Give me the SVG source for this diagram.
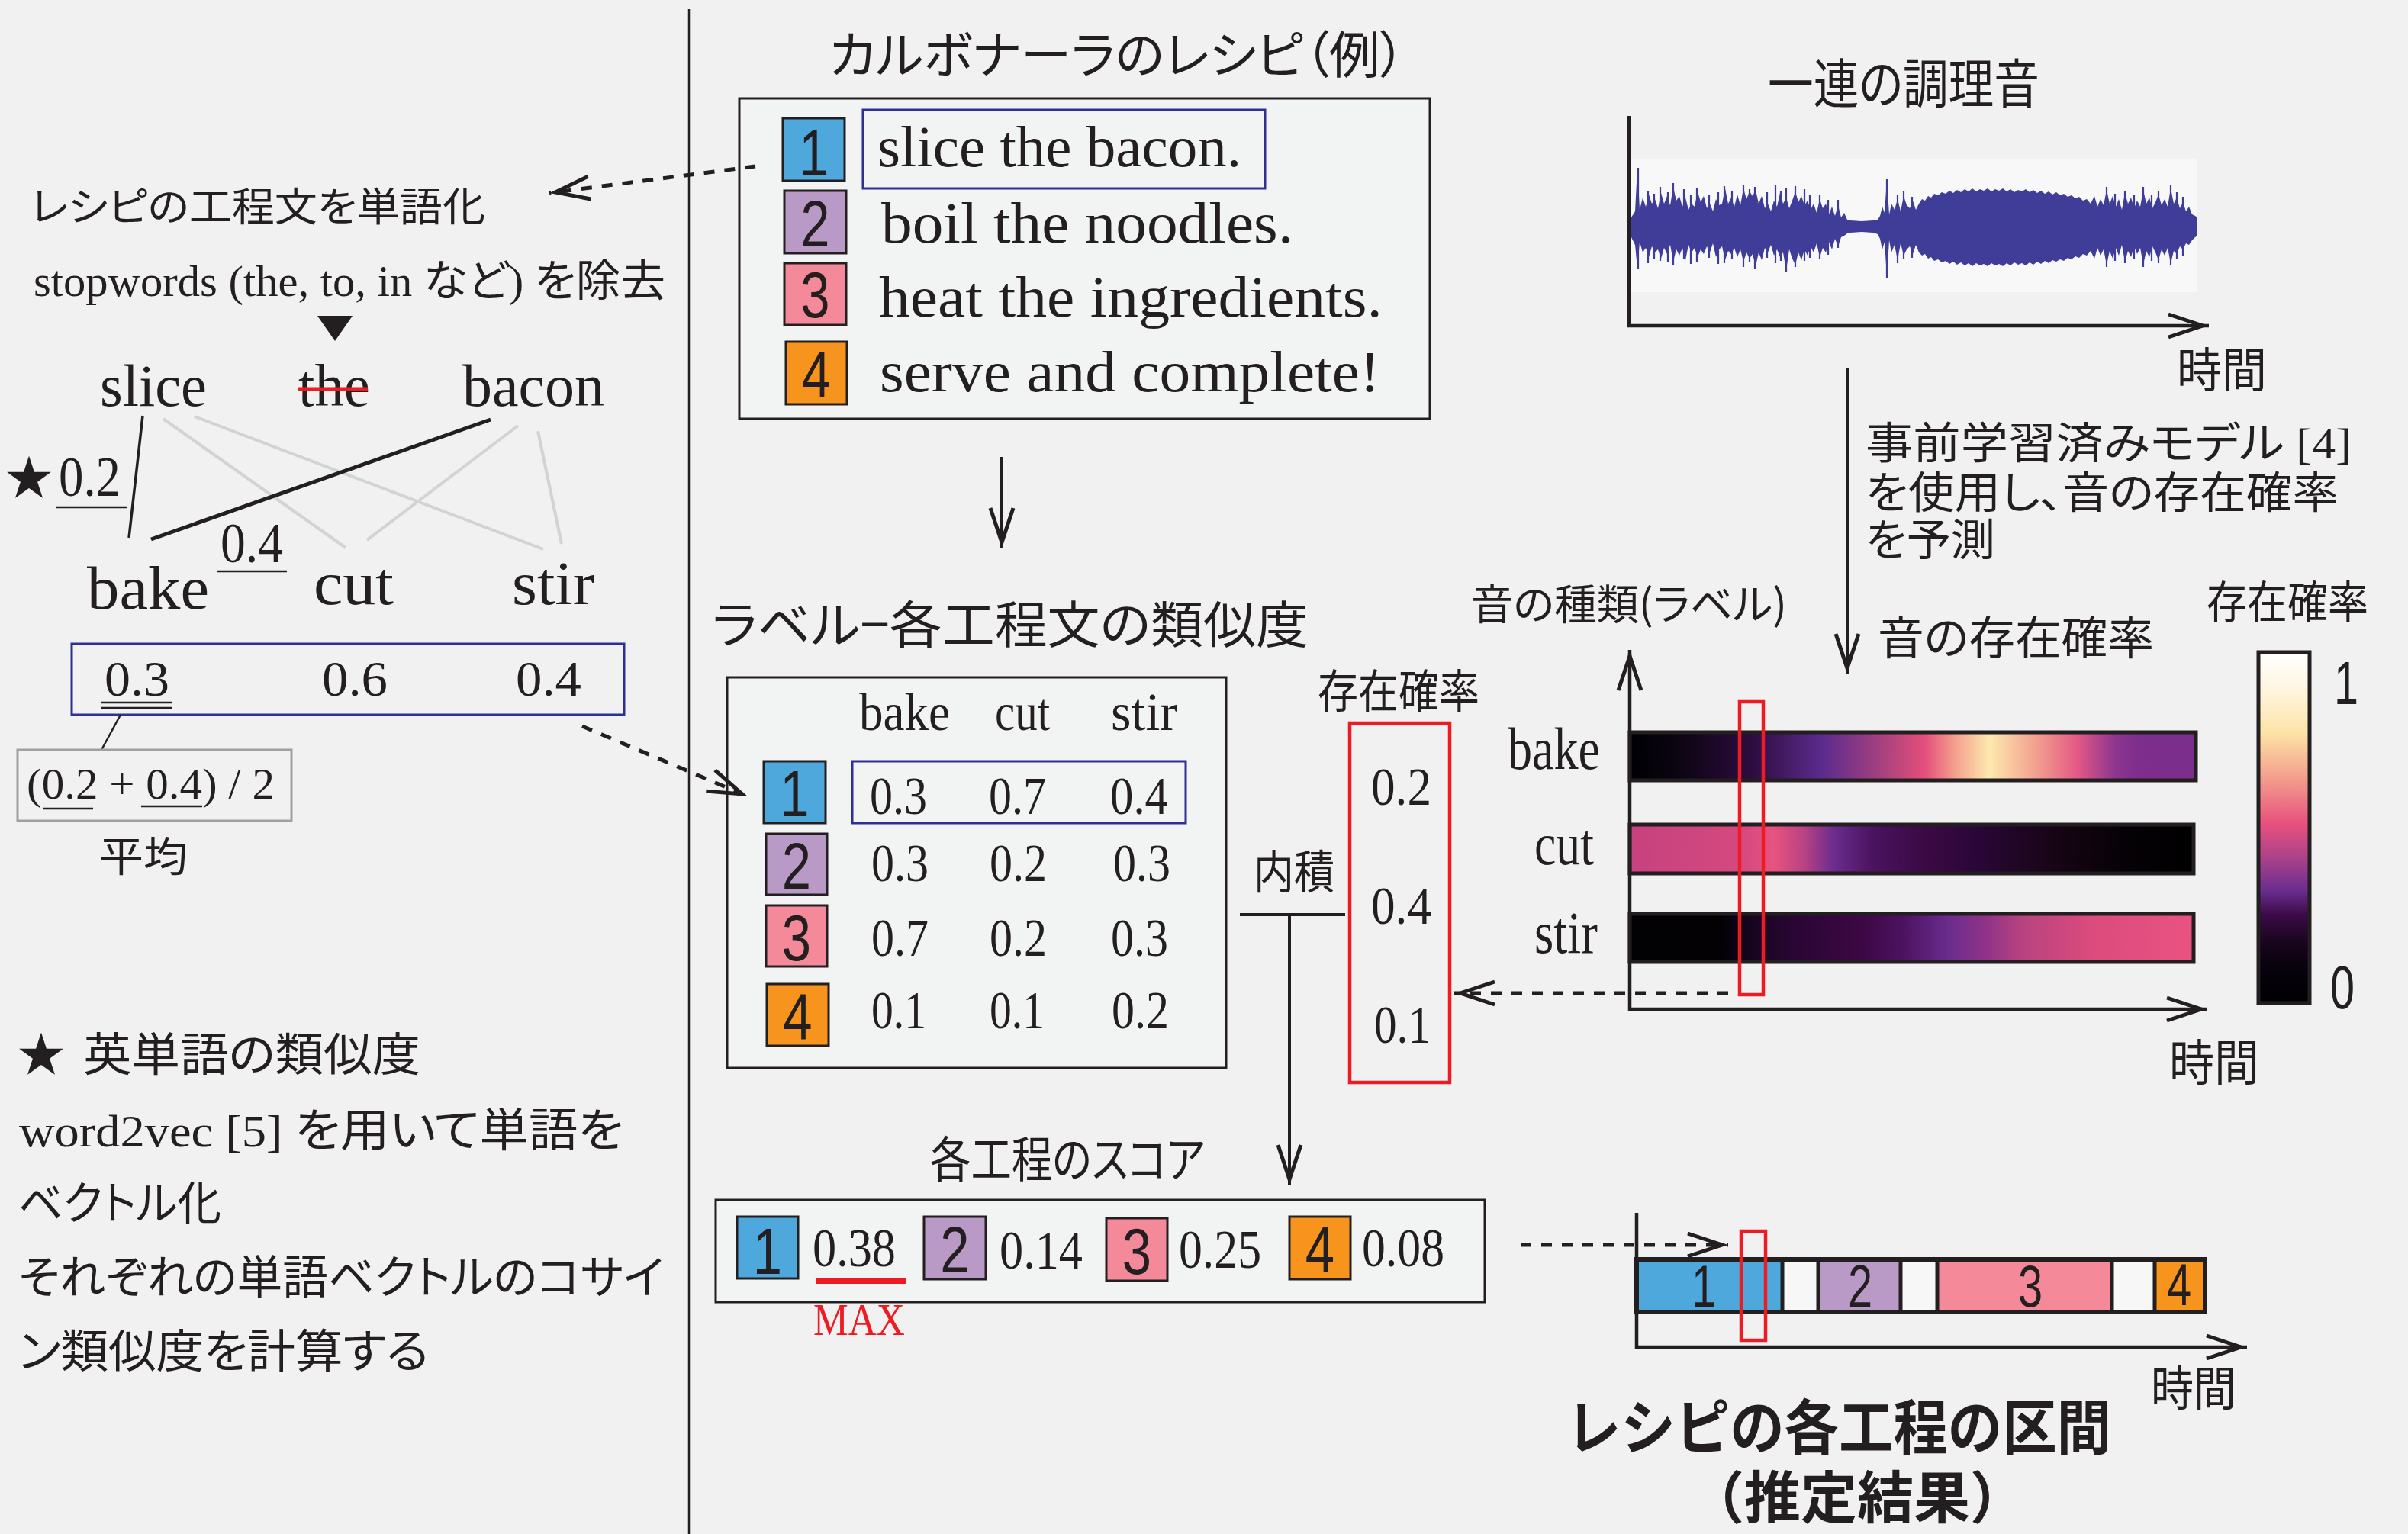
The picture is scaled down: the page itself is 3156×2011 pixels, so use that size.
<svg xmlns="http://www.w3.org/2000/svg" width="3156" height="2011" viewBox="0 0 3156 2011">
<defs>
<style>
.s{font-family:'Liberation Serif','Noto Sans CJK JP',serif;fill:#231f20;font-feature-settings:"palt"}
.j{font-family:'Noto Sans CJK JP','Noto Sans CJK SC',sans-serif;fill:#231f20;font-feature-settings:"palt"}
.jb{font-family:'Noto Sans CJK JP','Noto Sans CJK SC',sans-serif;fill:#231f20;font-weight:700}
.n{font-family:'Liberation Sans',Arial,sans-serif;fill:#231f20;text-anchor:middle}
.box{fill:#f2f3f3;stroke:#231f20;stroke-width:3}
.hl{fill:none;stroke:#2e3192;stroke-width:3}
.rb{fill:none;stroke:#ed1c24;stroke-width:4.5}
.bd{stroke:#231f20;stroke-width:3}
.c1{fill:#4fa8dc}.c2{fill:#b999c6}.c3{fill:#f48a99}.c4{fill:#f7941d}
.ln{stroke:#231f20;fill:none;stroke-width:2.5}
.gl{stroke:#d1d3d4;stroke-width:4;fill:none}
.ar{stroke:#231f20;stroke-width:4;fill:none;marker-end:url(#ah)}
.da{stroke-dasharray:14 13;stroke-width:5}
.ax{stroke:#231f20;stroke-width:4.5;fill:none}
.bar{stroke:#231f20;stroke-width:5}
</style>
<marker id="ah" markerUnits="userSpaceOnUse" viewBox="0 0 70 40" markerWidth="70" markerHeight="40" refX="60" refY="20" orient="auto" overflow="visible">
<path d="M7,5 L52,20 L7,35" fill="none" stroke="#231f20" stroke-width="5" stroke-linejoin="miter" stroke-miterlimit="10"/>
</marker>
<linearGradient id="gBake" x1="0" y1="0" x2="1" y2="0">
<stop offset="0" stop-color="#000004"/><stop offset="0.08" stop-color="#0a0410"/><stop offset="0.214" stop-color="#2d0c3e"/><stop offset="0.341" stop-color="#5c2b8e"/><stop offset="0.441" stop-color="#a3407f"/><stop offset="0.521" stop-color="#e44f7b"/><stop offset="0.575" stop-color="#f4a08e"/><stop offset="0.635" stop-color="#fde9ae"/><stop offset="0.722" stop-color="#f19c8e"/><stop offset="0.789" stop-color="#e55a85"/><stop offset="0.856" stop-color="#8f3590"/><stop offset="0.896" stop-color="#7e2e8c"/><stop offset="1" stop-color="#7b2e8c"/>
</linearGradient>
<linearGradient id="gCut" x1="0" y1="0" x2="1" y2="0">
<stop offset="0" stop-color="#c6427e"/><stop offset="0.2" stop-color="#d5497f"/><stop offset="0.255" stop-color="#e8537f"/><stop offset="0.309" stop-color="#b94283"/><stop offset="0.362" stop-color="#6a2d8e"/><stop offset="0.43" stop-color="#4b1360"/><stop offset="0.517" stop-color="#3c0a45"/><stop offset="0.617" stop-color="#2a0638"/><stop offset="0.752" stop-color="#170515"/><stop offset="0.886" stop-color="#050106"/><stop offset="1" stop-color="#000000"/>
</linearGradient>
<linearGradient id="gStir" x1="0" y1="0" x2="1" y2="0">
<stop offset="0" stop-color="#020103"/><stop offset="0.16" stop-color="#030104"/><stop offset="0.215" stop-color="#170520"/><stop offset="0.295" stop-color="#2a0634"/><stop offset="0.416" stop-color="#3d0845"/><stop offset="0.483" stop-color="#4c1260"/><stop offset="0.564" stop-color="#6a2c8d"/><stop offset="0.631" stop-color="#8f3388"/><stop offset="0.698" stop-color="#b8437f"/><stop offset="0.819" stop-color="#dc4b7d"/><stop offset="1" stop-color="#e95382"/>
</linearGradient>
<linearGradient id="gBar" x1="0" y1="1" x2="0" y2="0">
<stop offset="0" stop-color="#000004"/><stop offset="0.1" stop-color="#07020c"/><stop offset="0.18" stop-color="#1b0620"/><stop offset="0.25" stop-color="#3b0a46"/><stop offset="0.32" stop-color="#6a2d8e"/><stop offset="0.41" stop-color="#a8418a"/><stop offset="0.51" stop-color="#e7517c"/><stop offset="0.65" stop-color="#f4a38e"/><stop offset="0.77" stop-color="#fde3a7"/><stop offset="0.9" stop-color="#fff6e2"/><stop offset="1" stop-color="#ffffff"/>
</linearGradient>
</defs>

<rect width="3156" height="2011" fill="#f1f1f1"/>
<line x1="903" y1="12" x2="903" y2="2011" stroke="#231f20" stroke-width="2.5"/>

<g id="tokenize">
<text class="j" x="40" y="290" font-size="52" textLength="596" lengthAdjust="spacingAndGlyphs">レシピの工程文を単語化</text>
<text class="s" x="44" y="388" font-size="57" textLength="828" lengthAdjust="spacingAndGlyphs">stopwords (the, to, in など) を除去</text>
<polygon points="416,414 462,414 439,447" fill="#231f20"/>
</g>

<g id="word-graph">
<line class="gl" x1="214" y1="549" x2="453" y2="718"/>
<line class="gl" x1="255" y1="546" x2="712" y2="720"/>
<line class="gl" x1="679" y1="558" x2="481" y2="708"/>
<line class="gl" x1="705" y1="565" x2="736" y2="713"/>
<line x1="187" y1="545" x2="169" y2="705" stroke="#231f20" stroke-width="3.5"/>
<line x1="643" y1="550" x2="198" y2="707" stroke="#231f20" stroke-width="5"/>
<text class="s" x="131" y="532" font-size="78" textLength="140" lengthAdjust="spacingAndGlyphs">slice</text>
<text class="s" x="391" y="532" font-size="78" textLength="94" lengthAdjust="spacingAndGlyphs">the</text>
<line x1="390" y1="510" x2="482" y2="510" stroke="#ed1c24" stroke-width="5"/>
<text class="s" x="606" y="532" font-size="78" textLength="186" lengthAdjust="spacingAndGlyphs">bacon</text>
<text class="j" x="7" y="649" font-size="62">★</text>
<text class="s" x="77" y="650" font-size="74" textLength="81" lengthAdjust="spacingAndGlyphs">0.2</text>
<line class="ln" x1="73" y1="665" x2="166" y2="665"/>
<text class="s" x="289" y="737" font-size="74" textLength="82" lengthAdjust="spacingAndGlyphs">0.4</text>
<line class="ln" x1="285" y1="749" x2="376" y2="749"/>
<text class="s" x="114" y="798" font-size="80" textLength="160" lengthAdjust="spacingAndGlyphs">bake</text>
<text class="s" x="411" y="792" font-size="80" textLength="105" lengthAdjust="spacingAndGlyphs">cut</text>
<text class="s" x="671" y="792" font-size="80" textLength="108" lengthAdjust="spacingAndGlyphs">stir</text>
</g>

<g id="label-vector">
<rect class="hl" x="94" y="844" width="724" height="93"/>
<text class="s" x="137" y="912" font-size="65" textLength="85" lengthAdjust="spacingAndGlyphs">0.3</text>
<text class="s" x="422" y="912" font-size="65" textLength="86" lengthAdjust="spacingAndGlyphs">0.6</text>
<text class="s" x="676" y="912" font-size="65" textLength="86" lengthAdjust="spacingAndGlyphs">0.4</text>
<line class="ln" x1="132" y1="921" x2="225" y2="921"/>
<line class="ln" x1="132" y1="928" x2="225" y2="928"/>
</g>

<g id="average">
<line class="ln" x1="158" y1="937" x2="133" y2="983"/>
<rect x="23" y="983" width="359" height="93" fill="none" stroke="#a0a0a0" stroke-width="3"/>
<text class="s" x="35" y="1047" font-size="57" textLength="325" lengthAdjust="spacingAndGlyphs">(0.2 + 0.4) / 2</text>
<line class="ln" x1="56" y1="1060" x2="122" y2="1060"/>
<line class="ln" x1="185" y1="1057" x2="265" y2="1057"/>
<text class="j" x="130" y="1143" font-size="54" textLength="116" lengthAdjust="spacingAndGlyphs">平均</text>
</g>

<g id="note">
<text class="j" x="23" y="1405" font-size="62">★</text>
<text class="j" x="109" y="1404" font-size="60" textLength="442" lengthAdjust="spacingAndGlyphs">英単語の類似度</text>
<text class="s" x="25" y="1503" font-size="60" textLength="792" lengthAdjust="spacingAndGlyphs">word2vec [5] を用いて単語を</text>
<text class="j" x="24" y="1599" font-size="60" textLength="266" lengthAdjust="spacingAndGlyphs">ベクトル化</text>
<text class="j" x="24" y="1696" font-size="60" textLength="846" lengthAdjust="spacingAndGlyphs">それぞれの単語ベクトルのコサイ</text>
<text class="j" x="24" y="1793" font-size="60" textLength="538" lengthAdjust="spacingAndGlyphs">ン類似度を計算する</text>
</g>

<g id="recipe">
<text class="j" x="1086" y="96" font-size="66" textLength="756" lengthAdjust="spacingAndGlyphs">カルボナーラのレシピ（例）</text>
<rect class="box" x="969" y="129" width="905" height="420"/>
<rect class="c1 bd" x="1026" y="155" width="81" height="82"/>
<rect class="c2 bd" x="1028" y="250" width="81" height="82"/>
<rect class="c3 bd" x="1028" y="345" width="81" height="81"/>
<rect class="c4 bd" x="1030" y="448" width="80" height="82"/>
<text class="n" font-size="86" transform="translate(1066.5,230) scale(0.8,1)">1</text>
<text class="n" font-size="86" transform="translate(1068.5,323) scale(0.8,1)">2</text>
<text class="n" font-size="86" transform="translate(1068.5,416) scale(0.8,1)">3</text>
<text class="n" font-size="86" transform="translate(1070,520) scale(0.8,1)">4</text>
<rect class="hl" x="1131" y="144" width="527" height="103"/>
<text class="s" x="1150" y="218" font-size="76" textLength="477" lengthAdjust="spacingAndGlyphs">slice the bacon.</text>
<text class="s" x="1155" y="318" font-size="76" textLength="540" lengthAdjust="spacingAndGlyphs">boil the noodles.</text>
<text class="s" x="1152" y="415" font-size="76" textLength="660" lengthAdjust="spacingAndGlyphs">heat the ingredients.</text>
<text class="s" x="1153" y="513" font-size="76" textLength="656" lengthAdjust="spacingAndGlyphs">serve and complete!</text>
</g>

<g id="similarity">
<text class="j" x="933" y="843" font-size="66" textLength="782" lengthAdjust="spacingAndGlyphs">ラベル−各工程文の類似度</text>
<rect class="box" x="953" y="888" width="654" height="512"/>
<text class="s" x="1126" y="957" font-size="69" textLength="119" lengthAdjust="spacingAndGlyphs">bake</text>
<text class="s" x="1304" y="957" font-size="69" textLength="72" lengthAdjust="spacingAndGlyphs">cut</text>
<text class="s" x="1456" y="957" font-size="69" textLength="87" lengthAdjust="spacingAndGlyphs">stir</text>
<rect class="c1 bd" x="1001" y="998" width="81" height="81"/>
<rect class="c2 bd" x="1004" y="1093" width="80" height="80"/>
<rect class="c3 bd" x="1004" y="1187" width="80" height="80"/>
<rect class="c4 bd" x="1005" y="1290" width="81" height="81"/>
<text class="n" font-size="86" transform="translate(1041.5,1070) scale(0.8,1)">1</text>
<text class="n" font-size="86" transform="translate(1044,1165) scale(0.8,1)">2</text>
<text class="n" font-size="86" transform="translate(1044,1259) scale(0.8,1)">3</text>
<text class="n" font-size="86" transform="translate(1045.5,1362) scale(0.8,1)">4</text>
<rect class="hl" x="1117" y="998" width="437" height="81"/>
<text class="s" x="1140" y="1067" font-size="69" textLength="75" lengthAdjust="spacingAndGlyphs">0.3</text>
<text class="s" x="1296" y="1067" font-size="69" textLength="75" lengthAdjust="spacingAndGlyphs">0.7</text>
<text class="s" x="1455" y="1067" font-size="69" textLength="76" lengthAdjust="spacingAndGlyphs">0.4</text>
<text class="s" x="1142" y="1155" font-size="69" textLength="75" lengthAdjust="spacingAndGlyphs">0.3</text>
<text class="s" x="1297" y="1155" font-size="69" textLength="75" lengthAdjust="spacingAndGlyphs">0.2</text>
<text class="s" x="1459" y="1155" font-size="69" textLength="75" lengthAdjust="spacingAndGlyphs">0.3</text>
<text class="s" x="1142" y="1253" font-size="69" textLength="75" lengthAdjust="spacingAndGlyphs">0.7</text>
<text class="s" x="1297" y="1253" font-size="69" textLength="75" lengthAdjust="spacingAndGlyphs">0.2</text>
<text class="s" x="1456" y="1253" font-size="69" textLength="75" lengthAdjust="spacingAndGlyphs">0.3</text>
<text class="s" x="1142" y="1348" font-size="69" textLength="72" lengthAdjust="spacingAndGlyphs">0.1</text>
<text class="s" x="1297" y="1348" font-size="69" textLength="72" lengthAdjust="spacingAndGlyphs">0.1</text>
<text class="s" x="1457" y="1348" font-size="69" textLength="75" lengthAdjust="spacingAndGlyphs">0.2</text>
</g>

<g id="presence">
<text class="j" x="1727" y="928" font-size="60" textLength="212" lengthAdjust="spacingAndGlyphs">存在確率</text>
<rect class="rb" x="1769" y="948" width="131" height="471"/>
<text class="s" x="1797" y="1055" font-size="69" textLength="79" lengthAdjust="spacingAndGlyphs">0.2</text>
<text class="s" x="1797" y="1211" font-size="69" textLength="79" lengthAdjust="spacingAndGlyphs">0.4</text>
<text class="s" x="1801" y="1367" font-size="69" textLength="74" lengthAdjust="spacingAndGlyphs">0.1</text>
<text class="j" x="1643" y="1165" font-size="60" textLength="106" lengthAdjust="spacingAndGlyphs">内積</text>
</g>

<g id="scores">
<text class="j" x="1219" y="1543" font-size="64" textLength="360" lengthAdjust="spacingAndGlyphs">各工程のスコア</text>
<rect class="box" x="938" y="1573" width="1008" height="134"/>
<rect class="c1 bd" x="966" y="1595" width="80" height="81"/>
<rect class="c2 bd" x="1211" y="1595" width="81" height="82"/>
<rect class="c3 bd" x="1450" y="1597" width="80" height="82"/>
<rect class="c4 bd" x="1690" y="1595" width="80" height="82"/>
<text class="n" font-size="86" transform="translate(1006,1670) scale(0.8,1)">1</text>
<text class="n" font-size="86" transform="translate(1251.5,1668) scale(0.8,1)">2</text>
<text class="n" font-size="86" transform="translate(1490,1670) scale(0.8,1)">3</text>
<text class="n" font-size="86" transform="translate(1730,1667) scale(0.8,1)">4</text>
<text class="s" x="1065" y="1660" font-size="71" textLength="109" lengthAdjust="spacingAndGlyphs">0.38</text>
<text class="s" x="1310" y="1663" font-size="71" textLength="109" lengthAdjust="spacingAndGlyphs">0.14</text>
<text class="s" x="1545" y="1662" font-size="71" textLength="108" lengthAdjust="spacingAndGlyphs">0.25</text>
<text class="s" x="1785" y="1660" font-size="71" textLength="108" lengthAdjust="spacingAndGlyphs">0.08</text>
<rect x="1069" y="1675" width="119" height="8" fill="#ed1c24"/>
<text class="s" x="1066" y="1750" font-size="60" textLength="120" lengthAdjust="spacingAndGlyphs" style="fill:#ed1c24">MAX</text>
</g>

<g id="waveform">
<text class="j" x="2317" y="136" font-size="70" textLength="356" lengthAdjust="spacingAndGlyphs">一連の調理音</text>
<rect x="2138" y="208" width="742" height="175" fill="#f8f8f8"/>
<polygon fill="#3f3d98" points="2138,285 2143,277 2146,220 2149,275 2153,259 2157,271 2161,255 2165,267 2169,261 2173,273 2177,253 2181,267 2185,257 2189,269 2193,245 2197,263 2201,257 2205,271 2209,259 2213,275 2217,267 2221,271 2225,251 2229,265 2233,257 2237,273 2241,267 2245,277 2249,261 2253,269 2257,267 2261,247 2265,267 2269,259 2273,271 2277,255 2281,269 2285,247 2289,261 2293,251 2297,257 2301,249 2305,267 2309,257 2313,273 2317,267 2321,277 2325,263 2329,271 2333,253 2337,267 2341,259 2345,273 2349,263 2353,251 2357,265 2361,257 2365,269 2369,263 2373,275 2377,267 2381,279 2385,261 2389,273 2393,267 2397,281 2401,271 2405,283 2409,269 2413,285 2417,279 2421,288 2425,289 2440,290 2455,289 2461,288 2464,283 2467,271 2470,279 2473,235 2476,281 2479,267 2483,275 2487,261 2491,277 2495,257 2499,269 2503,273 2507,263 2511,275 2515,267 2519,261 2523,263 2527,257 2531,259 2535,254 2540,256 2545,252 2550,254 2555,250 2560,253 2565,249 2570,252 2575,248 2580,251 2585,247 2590,251 2595,248 2600,250 2605,247 2610,251 2615,248 2620,250 2625,247 2630,251 2635,248 2640,252 2645,249 2650,251 2655,248 2660,252 2665,249 2670,253 2675,250 2680,254 2685,251 2690,255 2695,252 2700,256 2705,254 2710,258 2715,256 2720,260 2725,258 2730,263 2735,261 2740,267 2745,257 2749,271 2753,261 2757,269 2761,249 2765,267 2769,257 2773,271 2777,261 2781,275 2785,253 2789,267 2793,259 2797,273 2801,263 2805,271 2809,249 2813,267 2817,259 2821,273 2825,265 2829,255 2833,269 2837,261 2841,271 2845,247 2849,267 2853,259 2857,273 2861,265 2865,277 2869,271 2873,281 2877,283 2880,285 2880,309 2877,311 2873,315 2869,321 2865,319 2861,327 2857,323 2853,333 2849,329 2845,345 2841,325 2837,335 2833,327 2829,341 2825,331 2821,323 2817,337 2813,329 2809,347 2805,325 2801,333 2797,323 2793,337 2789,329 2785,343 2781,321 2777,335 2773,325 2769,339 2765,329 2761,347 2757,327 2753,335 2749,325 2745,339 2740,329 2735,335 2730,333 2725,338 2720,336 2715,340 2710,338 2705,342 2700,340 2695,343 2690,341 2685,345 2680,342 2675,346 2670,343 2665,347 2660,344 2655,348 2650,345 2645,347 2640,344 2635,348 2630,345 2625,349 2620,346 2615,348 2610,345 2605,349 2600,346 2595,348 2590,345 2585,349 2580,345 2575,348 2570,344 2565,347 2560,343 2555,346 2550,342 2545,344 2540,340 2535,342 2531,337 2527,339 2523,333 2519,335 2515,331 2511,321 2507,333 2503,323 2499,327 2495,335 2491,319 2487,341 2483,321 2479,331 2476,315 2473,363 2470,317 2467,327 2464,313 2461,307 2455,305 2440,304 2425,305 2421,306 2417,309 2413,311 2409,323 2405,313 2401,327 2397,317 2393,331 2389,325 2385,337 2381,319 2377,331 2373,323 2369,335 2365,327 2361,341 2357,331 2353,347 2349,339 2345,327 2341,355 2337,331 2333,337 2329,327 2325,335 2321,321 2317,331 2313,325 2309,341 2305,331 2301,349 2297,333 2293,339 2289,331 2285,343 2281,327 2277,337 2273,325 2269,333 2265,329 2261,341 2257,323 2253,327 2249,337 2245,319 2241,331 2237,323 2233,333 2229,327 2225,337 2221,325 2217,331 2213,321 2209,341 2205,325 2201,335 2197,327 2193,343 2189,321 2185,333 2181,325 2177,339 2173,327 2169,331 2165,323 2161,337 2157,325 2153,331 2149,317 2146,352 2143,321 2138,311"/>
<path fill="none" stroke="#3f3d98" stroke-width="2.2" d="M2147,220V352M2160,250V345M2168,254V340M2176,245V342M2186,252V344M2193,240V348M2207,248V340M2216,256V346M2224,246V343M2240,255V338M2252,252V346M2260,244V345M2270,250V340M2285,243V350M2293,248V344M2300,245V352M2316,252V338M2327,243V345M2334,250V342M2341,246V357M2353,244V350M2365,248V342M2372,256V338M2385,255V340M2396,262V334M2409,262V325M2473,235V365M2487,255V345M2495,250V340M2506,258V338M2761,245V350M2772,254V342M2785,250V345M2797,256V340M2809,245V350M2820,256V342M2829,250V345M2845,243V348M2853,252V340M2861,258V335"/>
<line class="ax" x1="2135" y1="152" x2="2135" y2="429"/>
<line class="ax" x1="2133" y1="427" x2="2895" y2="427" marker-end="url(#ah)"/>
<text class="j" x="2853" y="508" font-size="62" textLength="118" lengthAdjust="spacingAndGlyphs">時間</text>
</g>

<g id="model">
<text class="s" x="2445" y="601" font-size="57" textLength="637" lengthAdjust="spacingAndGlyphs">事前学習済みモデル [4]</text>
<text class="j" x="2445" y="666" font-size="57" textLength="620" lengthAdjust="spacingAndGlyphs">を使用し、音の存在確率</text>
<text class="j" x="2445" y="728" font-size="57" textLength="170" lengthAdjust="spacingAndGlyphs">を予測</text>
<text class="j" x="2461" y="858" font-size="60" textLength="362" lengthAdjust="spacingAndGlyphs">音の存在確率</text>
</g>

<g id="heatmap">
<text class="j" x="1928" y="812" font-size="55" textLength="414" lengthAdjust="spacingAndGlyphs">音の種類(ラベル)</text>
<text class="s" x="1976" y="1008" font-size="78" textLength="121" lengthAdjust="spacingAndGlyphs">bake</text>
<text class="s" x="2011" y="1133" font-size="78" textLength="78" lengthAdjust="spacingAndGlyphs">cut</text>
<text class="s" x="2011" y="1249" font-size="78" textLength="83" lengthAdjust="spacingAndGlyphs">stir</text>
<rect class="bar" x="2136" y="960" width="742" height="63" fill="url(#gBake)"/>
<rect class="bar" x="2136" y="1081" width="739" height="64" fill="url(#gCut)"/>
<rect class="bar" x="2136" y="1198" width="739" height="63" fill="url(#gStir)"/>
<line class="ax" x1="2136" y1="1325" x2="2136" y2="852" stroke-width="4" marker-end="url(#ah)"/>
<line class="ax" x1="2134" y1="1323" x2="2893" y2="1323" stroke-width="4" marker-end="url(#ah)"/>
<rect class="rb" x="2280" y="920" width="31" height="384"/>
<text class="j" x="2843" y="1416" font-size="64" textLength="118" lengthAdjust="spacingAndGlyphs">時間</text>
</g>

<g id="colorbar">
<text class="j" x="2892" y="810" font-size="58" textLength="212" lengthAdjust="spacingAndGlyphs">存在確率</text>
<rect class="bar" x="2960" y="855" width="67" height="460" fill="url(#gBar)"/>
<text class="n" font-size="80" transform="translate(3075,923) scale(0.72,1)">1</text>
<text class="n" font-size="80" transform="translate(3070,1322) scale(0.72,1)">0</text>
</g>

<g id="timeline">
<rect x="2145" y="1651" width="191" height="69" fill="#4fa8dc"/>
<rect x="2336" y="1651" width="47" height="69" fill="#f7f7f7"/>
<rect x="2383" y="1651" width="108" height="69" fill="#b999c6"/>
<rect x="2491" y="1651" width="48" height="69" fill="#f7f7f7"/>
<rect x="2539" y="1651" width="229" height="69" fill="#f48a99"/>
<rect x="2768" y="1651" width="56" height="69" fill="#f7f7f7"/>
<rect x="2824" y="1651" width="66" height="69" fill="#f7941d"/>
<rect x="2145" y="1651" width="745" height="69" fill="none" stroke="#231f20" stroke-width="6"/>
<path d="M2336,1651V1720M2383,1651V1720M2491,1651V1720M2539,1651V1720M2768,1651V1720M2824,1651V1720" stroke="#231f20" stroke-width="5"/>
<text class="n" font-size="77" transform="translate(2233,1713) scale(0.75,1)">1</text>
<text class="n" font-size="77" transform="translate(2438,1713) scale(0.75,1)">2</text>
<text class="n" font-size="77" transform="translate(2661,1713) scale(0.75,1)">3</text>
<text class="n" font-size="77" transform="translate(2856,1711) scale(0.75,1)">4</text>
<line class="ax" x1="2145" y1="1590" x2="2145" y2="1768" stroke-width="4"/>
<line class="ax" x1="2143" y1="1766" x2="2945" y2="1766" stroke-width="4" marker-end="url(#ah)"/>
<rect class="rb" x="2282" y="1614" width="32" height="143" stroke-width="5"/>
<text class="j" x="2819" y="1843" font-size="62" textLength="112" lengthAdjust="spacingAndGlyphs">時間</text>
<text class="jb" x="2053" y="1900" font-size="78" textLength="714" lengthAdjust="spacingAndGlyphs">レシピの各工程の区間</text>
<text class="jb" x="2212" y="1990" font-size="74">（推定結果）</text>
</g>

<g id="connectors">
<line class="ar da" x1="990" y1="218" x2="720" y2="253"/>
<line class="ar da" x1="763" y1="952" x2="980" y2="1044"/>
<line class="ar" x1="1313" y1="599" x2="1313" y2="719"/>
<line x1="1625" y1="1199" x2="1763" y2="1199" stroke="#231f20" stroke-width="4"/>
<line class="ar" x1="1690" y1="1199" x2="1690" y2="1554"/>
<line class="ar da" x1="2265" y1="1302" x2="1906" y2="1302"/>
<line class="ar" x1="2421" y1="483" x2="2421" y2="884"/>
<line class="ar da" x1="1993" y1="1632" x2="2265" y2="1632"/>
</g>
</svg>
